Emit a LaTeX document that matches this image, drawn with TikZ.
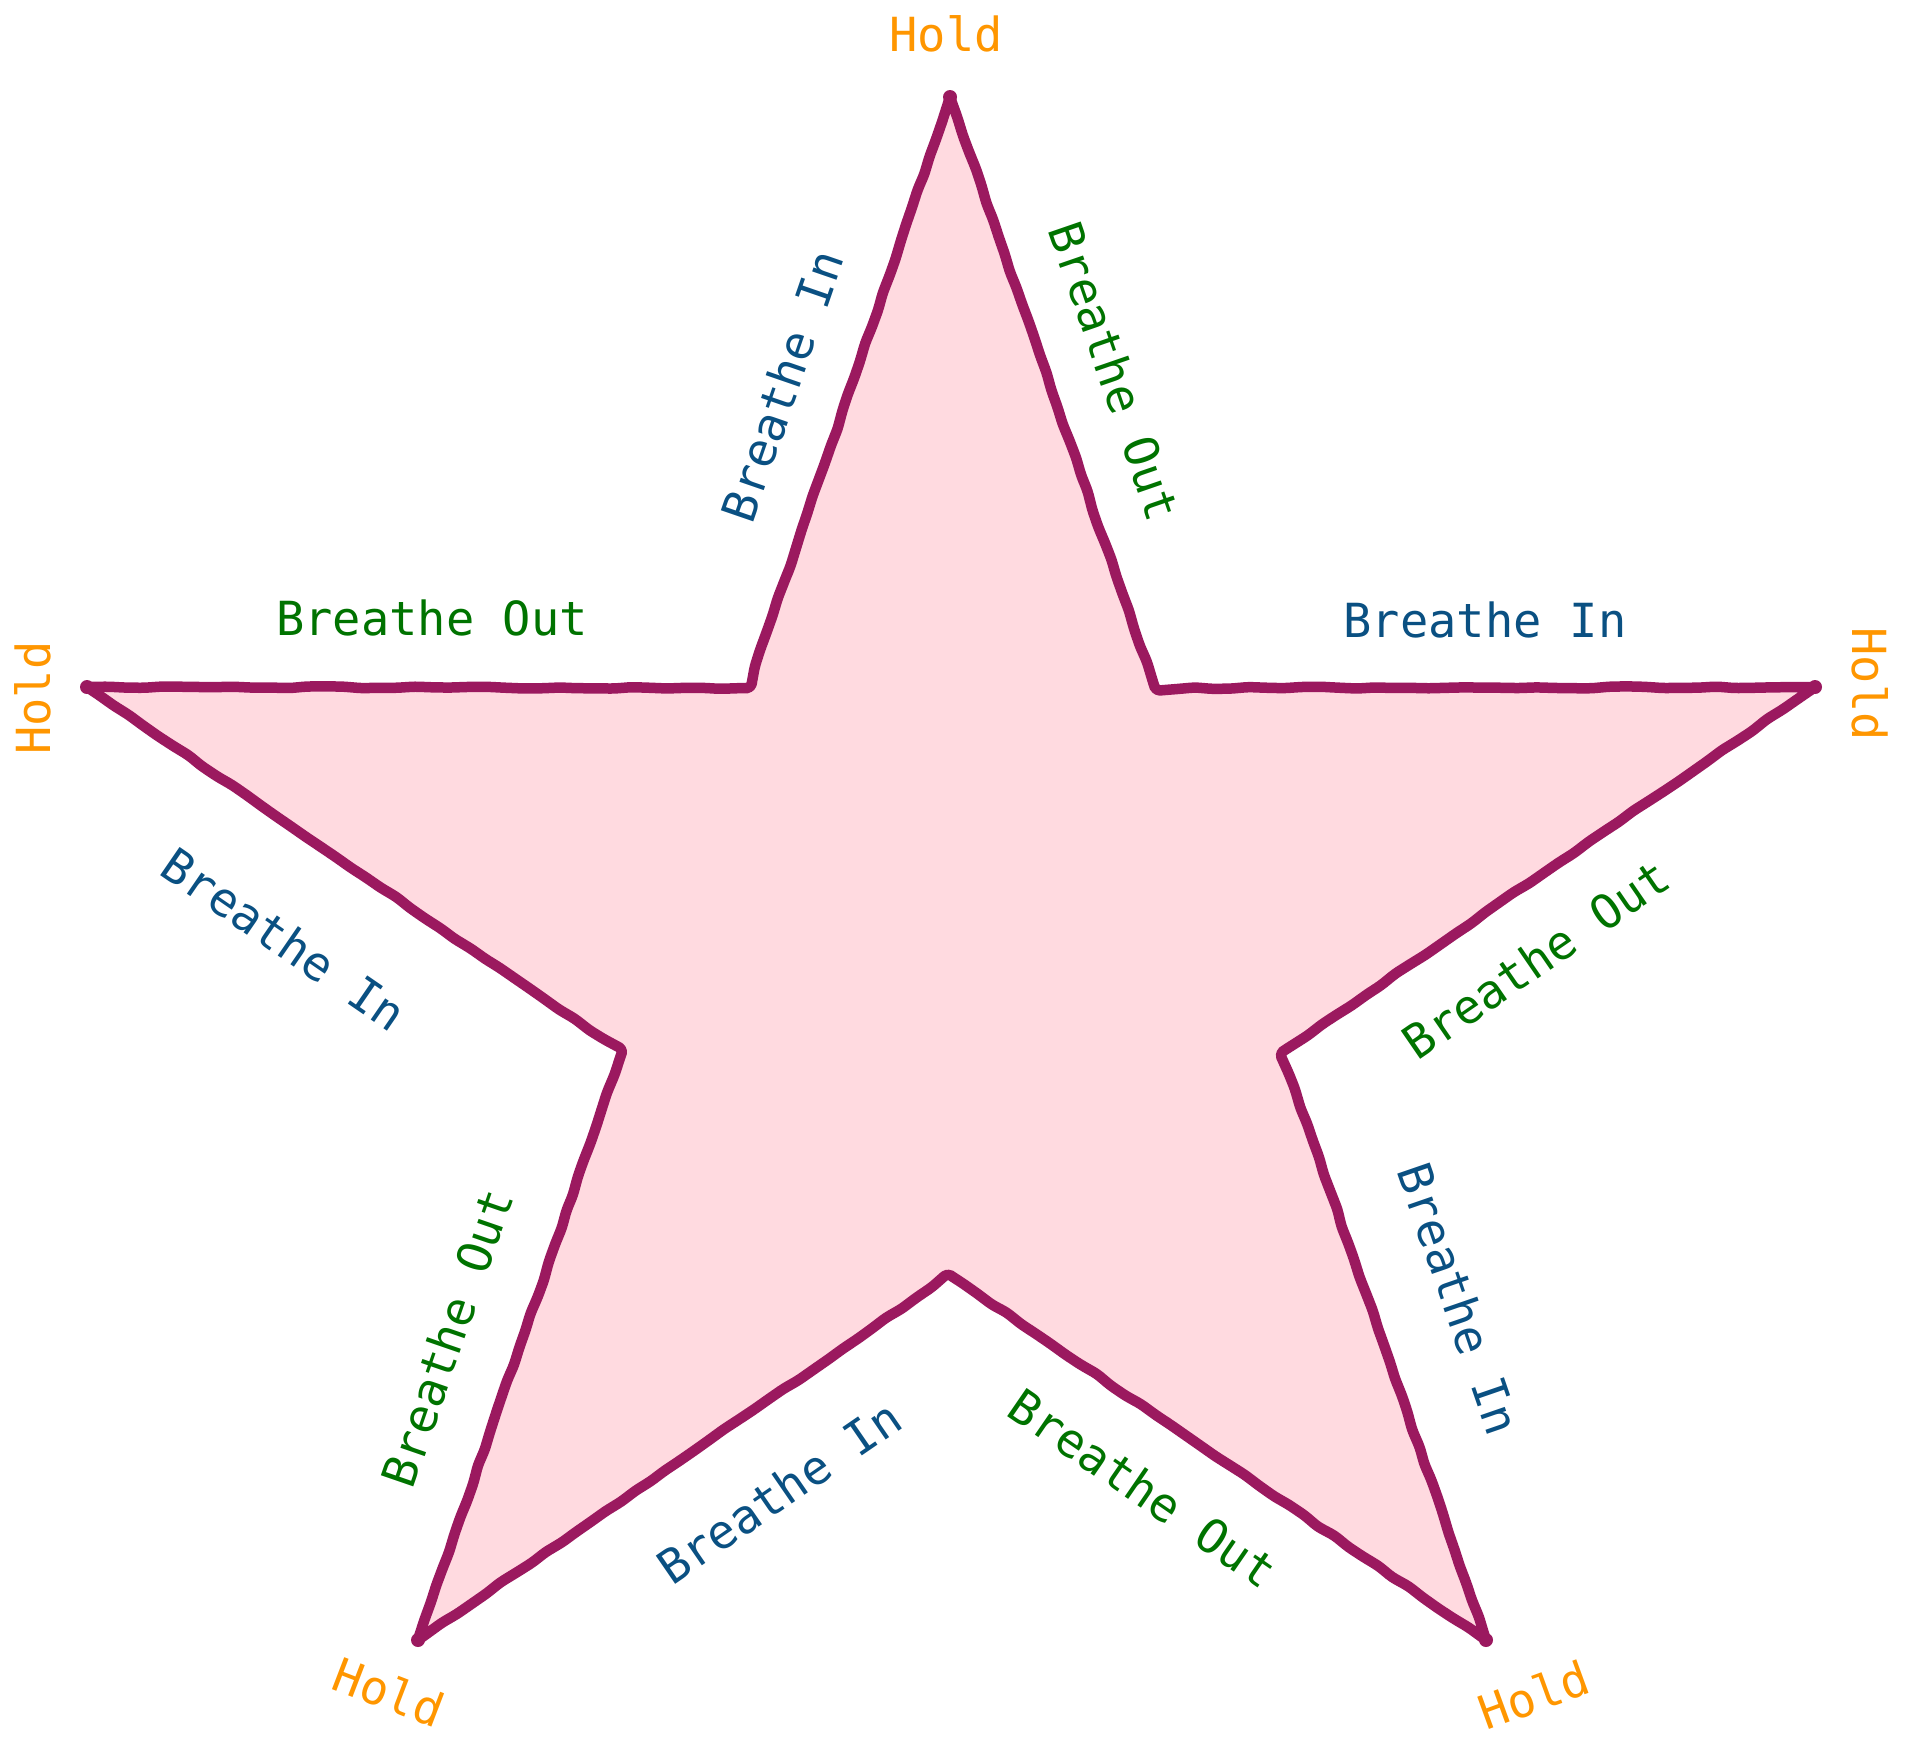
\documentclass[tikz,border=0pt]{standalone}
\usepackage{fontspec}
\setmonofont{DejaVu Sans Mono}
\usetikzlibrary{decorations.pathmorphing}
\definecolor{starline}{RGB}{155,25,95}
\definecolor{starfill}{RGB}{255,218,224}
\definecolor{holdc}{RGB}{255,150,0}
\definecolor{inc}{RGB}{10,80,130}
\definecolor{outc}{RGB}{0,115,0}
\tikzset{
  lbl/.style={font=\ttfamily\fontsize{47}{56}\selectfont, inner sep=0pt, anchor=center},
  holdlbl/.style={lbl, text=holdc},
  inlbl/.style={lbl, text=inc},
  outlbl/.style={lbl, text=outc},
  starpath/.style={draw=starline, fill=starfill, line width=10.5pt, line join=round, line cap=round,
    decorate, decoration={random steps, segment length=18pt, amplitude=1pt}, rounded corners=4pt}
}
\begin{document}
\begin{tikzpicture}[x=1pt,y=-1pt]
\pgfmathsetseed{7}
\useasboundingbox (0,0) rectangle (1914,1738);
% star vertices
\coordinate (T)   at (950,97);
\coordinate (iTR) at (1155,688);
\coordinate (R)   at (1815,687);
\coordinate (iR)  at (1282,1052);
\coordinate (BR)  at (1486,1640);
\coordinate (iB)  at (950,1275);
\coordinate (BL)  at (418,1640);
\coordinate (iL)  at (622,1052);
\coordinate (L)   at (87,687);
\coordinate (iTL) at (748,688);
\path[starpath] (T) -- (iTR) -- (R) -- (iR) -- (BR) -- (iB) -- (BL) -- (iL) -- (L) -- (iTL) -- cycle;
% tip dots
\foreach \p in {T,R,BR,BL,L}{\fill[starline] (\p) circle (7pt);}
% Hold labels
\node[holdlbl] (hT)  at (946,34) {Hold};
\node[holdlbl, rotate=90] (hL) at (33,698) {Hold};
\node[holdlbl, rotate=-90] (hR) at (1870,684) {Hold};
\node[holdlbl, rotate=-21] (hBL) at (389,1692) {Hold};
\node[holdlbl, rotate=20] (hBR) at (1534,1695) {Hold};
% edge labels
\node[outlbl] (o1) at (432,618) {Breathe Out};
\node[inlbl] (i1) at (1485,620) {Breathe In};
\node[inlbl, rotate=71] (i2) at (782,386) {Breathe In};
\node[outlbl, rotate=-71] (o2) at (1115,371) {Breathe Out};
\node[inlbl, rotate=-34.5] (i3) at (284,939) {Breathe In};
\node[outlbl, rotate=34.5] (o3) at (1536,959) {Breathe Out};
\node[outlbl, rotate=71] (o4) at (447,1338) {Breathe Out};
\node[inlbl, rotate=-71] (i4) at (1459,1299) {Breathe In};
\node[inlbl, rotate=34.5] (i5) at (779,1492) {Breathe In};
\node[outlbl, rotate=-34.5] (o5) at (1143,1488) {Breathe Out};
\end{tikzpicture}
\end{document}
